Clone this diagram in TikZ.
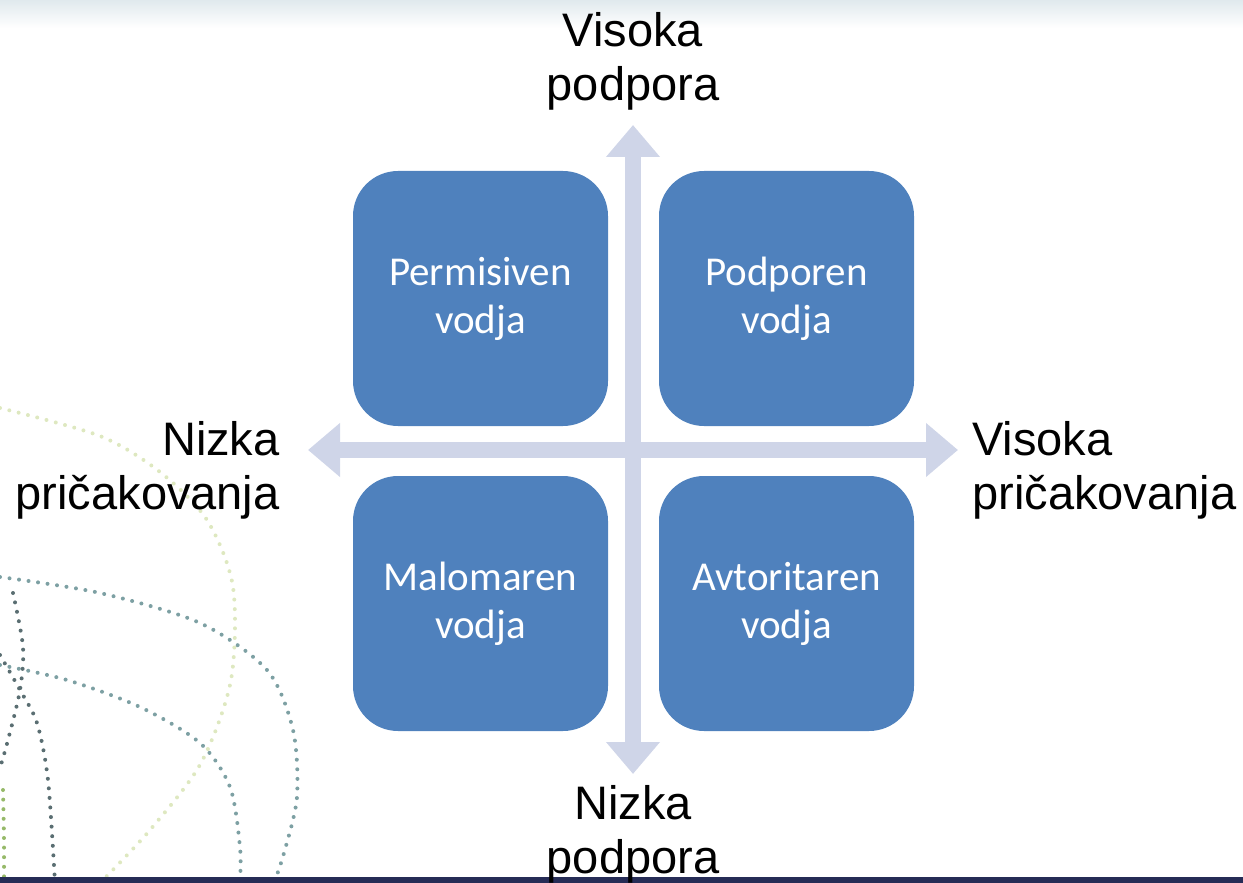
\documentclass[tikz,border=0pt]{standalone}
\usepackage{fontspec}
\newfontfamily\labelfont{Liberation Sans}
\newfontfamily\boxfont{Carlito}
\usetikzlibrary{arrows.meta}
\usetikzlibrary{positioning}
\definecolor{boxblue}{RGB}{79,129,189}
\definecolor{axisgray}{RGB}{207,213,232}
\definecolor{bandnavy}{RGB}{38,44,86}
\definecolor{topband}{RGB}{224,233,237}
\definecolor{dotteal}{RGB}{125,160,163}
\definecolor{dotdark}{RGB}{90,110,114}
\definecolor{dotpale}{RGB}{222,232,192}
\definecolor{dotgreen}{RGB}{150,185,105}
\tikzset{
    quadbox/.style = {rectangle, rounded corners=22.5pt, fill=boxblue, minimum width=127.5pt, minimum height=127.5pt, align=center, text=white, inner sep=0pt, font=\boxfont\fontsize{20.5}{24}\selectfont},
    axisline/.style = {line width=8pt, axisgray, {Triangle[width=26pt,length=16pt]}-{Triangle[width=26pt,length=16pt]}},
    axislabel/.style = {align=center, text=black, inner sep=0pt, font=\labelfont\fontsize{23.5}{27}\selectfont},
    dotarc/.style = {line width=2pt, line cap=round, dash pattern=on 0pt off 4.8pt}, % background dots
}

\begin{document}
\begin{tikzpicture}[x=0.5pt,y=-0.5pt]
  \useasboundingbox (0,0) rectangle (1243,883);
  % background
  \shade[top color=topband, bottom color=white] (0,0) rectangle (1243,28);
  \draw[dotarc, dotpale] plot[smooth] coordinates {(0,408) (100,436) (160,472) (207,520) (233,587) (231,680) (201,763) (150,830) (100,883)};
  \draw[dotarc, dotteal] plot[smooth] coordinates {(0,577) (100,593) (200,623) (267,670) (293,730) (297,797) (284,853) (274,883)};
  \draw[dotarc, dotteal] plot[smooth] coordinates {(0,665) (67,680) (140,707) (200,743) (230,787) (240,847) (240,883)};
  \draw[dotarc, dotdark] plot[smooth] coordinates {(0,655) (20,690) (37,723) (48,780) (55,883)};
  \draw[dotarc, dotdark] plot[smooth] coordinates {(13,593) (23,647) (20,690) (8,740) (0,768)};
  \draw[dotarc, dotgreen] plot[smooth] coordinates {(3,790) (4,840) (4,883)};
  \fill[bandnavy] (0,877) rectangle (1243,883);

  % axes
  \coordinate (top) at (633,125);
  \coordinate (bottom) at (633,774);
  \coordinate (left) at (308,450);
  \coordinate (right) at (958,450);
  \draw[axisline] (left) -- (right);
  \draw[axisline] (bottom) -- (top);

  % quadrants
  \node[quadbox] (perm) at (480.5,298.5) {Permisiven\\vodja};
  \node[quadbox] (podp) at (786.5,298.5) {Podporen\\vodja};
  \node[quadbox] (malo) at (480.5,603.5) {Malomaren\\vodja};
  \node[quadbox] (avto) at (786.5,603.5) {Avtoritaren\\vodja};

  % axis labels (anchored at the baseline of the last line)
  \node[axislabel, anchor=base] (hisup) at (633,101) {Visoka\\podpora};
  \node[axislabel, anchor=base] (losup) at (633,873) {Nizka\\podpora};
  \node[axislabel, align=right, anchor=base east] (loexp) at (280,509) {Nizka\\pričakovanja};
  \node[axislabel, align=left, anchor=base west] (hiexp) at (972,509) {Visoka\\pričakovanja};
\end{tikzpicture}
\end{document}
